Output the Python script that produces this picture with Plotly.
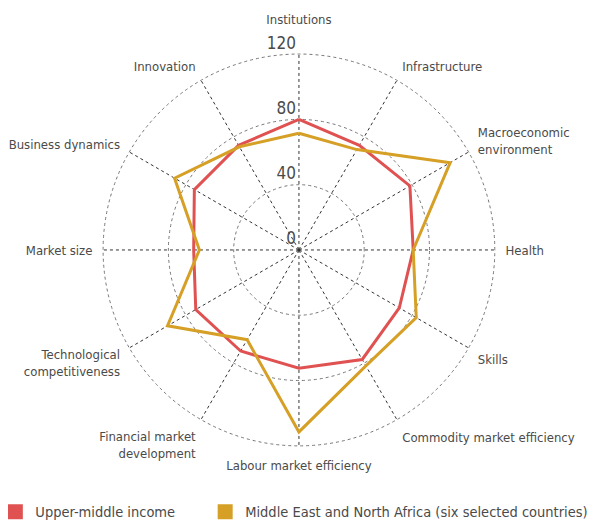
import plotly.graph_objects as go

categories = [
    "Institutions", "Infrastructure", "Macroeconomic environment", "Health",
    "Skills", "Commodity market efficiency", "Labour market efficiency",
    "Financial market development", "Technological competitiveness",
    "Market size", "Business dynamics", "Innovation",
]
category_labels = [
    "Institutions<br>&nbsp;", "Infrastructure", "Macroeconomic<br>environment", "Health",
    "Skills", "Commodity market efficiency", "Labour market efficiency",
    "Financial market<br>development", "Technological<br>competitiveness",
    "Market size", "Business dynamics", "Innovation",
]
upper_middle = [80, 74, 78.5, 70, 71, 77.5, 72.5, 71.5, 73, 64.5, 74, 74]
mena = [71.5, 71, 107, 70, 83, 82, 111.5, 63.5, 93, 61, 88, 73]
series_names = ["Upper-middle income", "Middle East and North Africa (six selected countries)"]
radial_ticks = [0, 40, 80, 120]

RED = "#e05252"
GOLD = "#d6a026"
FONT = "DejaVu Sans Condensed, Liberation Sans, sans-serif"
TXT = "#4a4a4a"

fig = go.Figure()

# each series gets its own legend box so both sit on one row
series = [(series_names[0], upper_middle, RED, "legend"),
          (series_names[1], mena, GOLD, "legend2")]

for name, vals, col, leg in series:
    # closed polygon
    fig.add_trace(go.Scatterpolar(
        r=vals + vals[:1],
        theta=categories + categories[:1],
        mode="lines",
        line=dict(color=col, width=3),
        showlegend=False,
    ))
    # square legend swatch
    fig.add_trace(go.Scatterpolar(
        r=[None], theta=[categories[0]],
        mode="markers",
        marker=dict(color=col, symbol="square", size=15),
        name=name,
        legend=leg,
    ))

leg_style = dict(
    orientation="h", y=0.042, xanchor="left", yanchor="middle",
    font=dict(family=FONT, size=14.5, color=TXT),
    bgcolor="rgba(0,0,0,0)",
)

fig.update_layout(
    width=603, height=526,
    margin=dict(l=0, r=0, t=0, b=0, autoexpand=False),
    paper_bgcolor="white",
    font=dict(family=FONT, color=TXT, size=13),
    polar=dict(
        domain=dict(x=[0.155, 0.810], y=[0.1645, 0.9155]),
        bgcolor="white",
        angularaxis=dict(
            direction="clockwise", rotation=90,
            tickvals=categories, ticktext=category_labels,
            showline=False, ticks="outside", ticklen=6, tickcolor="rgba(0,0,0,0)",
            gridcolor="#333", griddash="dot", gridwidth=1,
            tickfont=dict(family=FONT, size=13, color=TXT),
        ),
        radialaxis=dict(
            range=[0, 121], tickvals=radial_ticks,
            ticktext=[f"{v}<br>&nbsp;" for v in radial_ticks],
            angle=90, tickangle=90,
            side="counterclockwise",
            showline=False, ticks="",
            gridcolor="#777", griddash="dot", gridwidth=1,
            tickfont=dict(family=FONT, size=17, color=TXT),
        ),
    ),
    legend=dict(x=-0.021, **leg_style),
    legend2=dict(x=0.327, **leg_style),
)

fig.write_html("out.html")
